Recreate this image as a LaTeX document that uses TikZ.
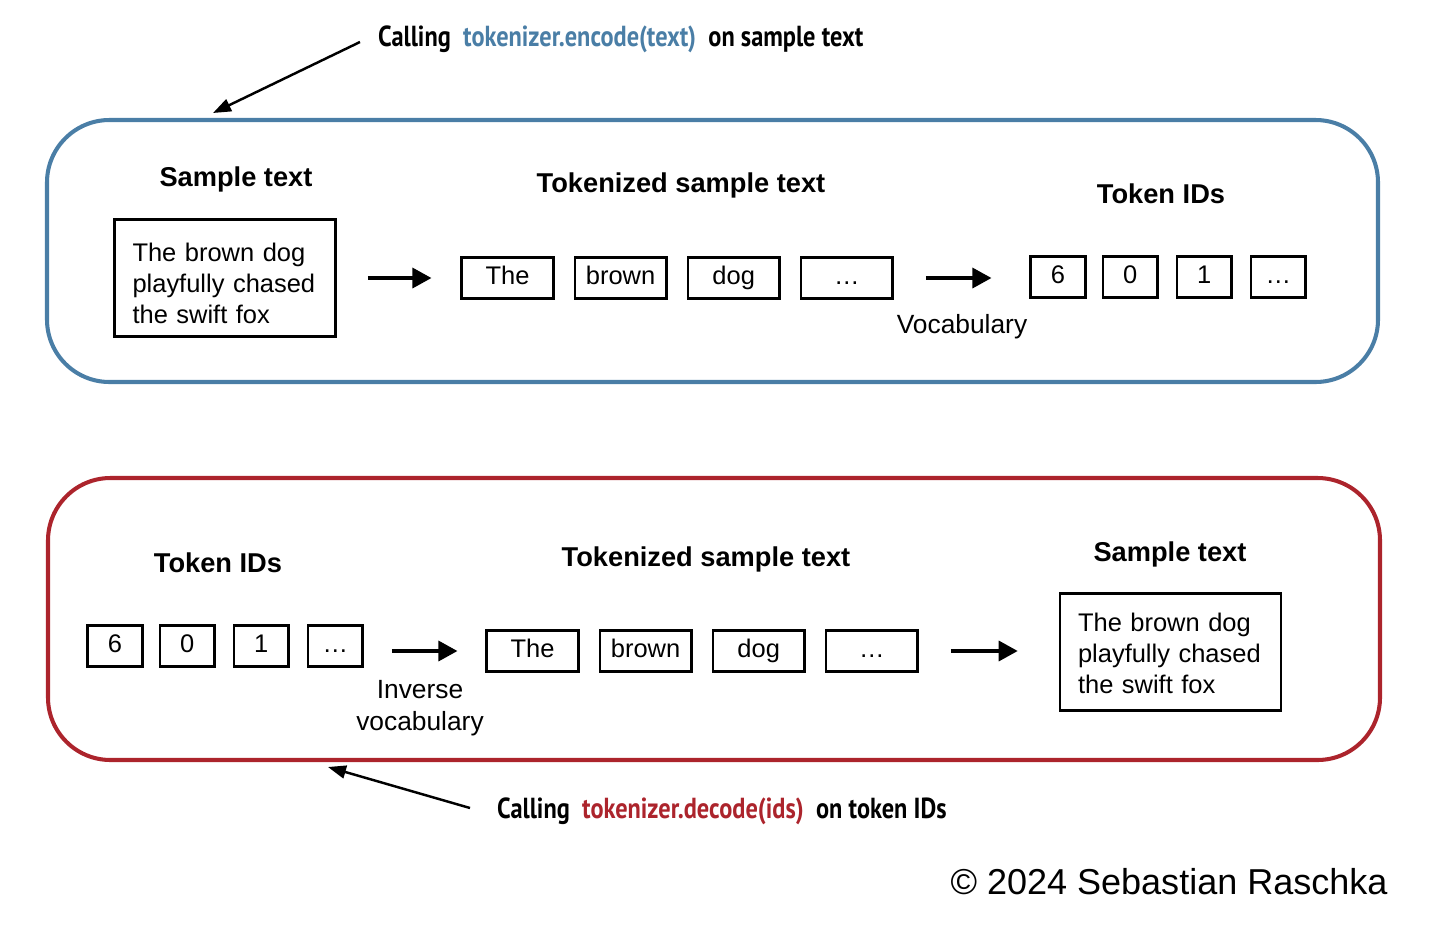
\documentclass[tikz,border=0pt]{standalone}
\usepackage{fontspec}
\setmainfont{Liberation Sans}
\newfontfamily\capfont[FakeStretch=0.84]{PT Sans}
\usepackage{xcolor}
\usetikzlibrary{positioning, arrows.meta}

\definecolor{encblue}{RGB}{74,126,166}
\definecolor{decred}{RGB}{172,36,44}

\tikzset{
  panel/.style={rounded corners=1.25cm, line width=2.3pt},
  tok/.style={draw, line width=1.5pt, minimum width=1.83cm, minimum height=0.82cm,
    inner sep=0pt, text height=0.98em, text depth=0.2em, font=\fontsize{14.5}{17}\selectfont},
  tid/.style={tok, minimum width=1.09cm},
  txtbox/.style={draw, line width=1.5pt, inner xsep=0.36cm, inner ysep=0pt,
    text width=3.7cm, minimum height=2.33cm, align=left, font=\fontsize{14.5}{17.6}\selectfont},
  head/.style={font=\fontsize{15.5}{18}\selectfont\bfseries},
  lbl/.style={font=\fontsize{15}{18.5}\selectfont, align=center},
  callcap/.style={font=\fontsize{16.5}{19}\selectfont\capfont\bfseries},
  flow/.style={-{Triangle[length=0.38cm,width=0.4cm]}, line width=1.9pt},
  pointer/.style={-{Triangle[length=0.36cm,width=0.26cm]}, line width=1.4pt}
}

\begin{document}
\begin{tikzpicture}[x=0.02cm, y=-0.02cm]
  \useasboundingbox (0,0) rectangle (1454,940);

  % Panels
  \draw[panel, encblue] (47,120) rectangle (1378,382);
  \draw[panel, decred] (48,478) rectangle (1380,760);

  % Encode
  \node[callcap, anchor=west] (enccap) at (372,39)
    {Calling\ \ \textcolor{encblue}{tokenizer.encode(text)}\ \ on sample text};
  \coordinate (enctip) at (213,113);
  \draw[pointer] (enccap.west) ++(-12,3) -- (enctip);

  \node[head] (encsamplehead) at (236,179) {Sample text};
  \node[txtbox] (encsample) at (225,278) {\rule{0pt}{16.5pt}The brown dog\\playfully chased\\the swift fox};

  \node[head] (enctokhead) at (681,185) {Tokenized sample text};
  \node[tok] (encThe) at (507.5,278) {The};
  \node[tok, right=0.38cm of encThe] (encbrown) {brown};
  \node[tok, right=0.38cm of encbrown] (encdog) {dog};
  \node[tok, right=0.38cm of encdog] (encdots) {\dots};

  \node[head] (encidhead) at (1161,194) {Token IDs};
  \node[tid] (encsix) at (1058,277) {6};
  \node[tid, right=0.3cm of encsix] (enczero) {0};
  \node[tid, right=0.34cm of enczero] (encone) {1};
  \node[tid, right=0.34cm of encone] (encmore) {\dots};

  \draw[flow, shorten <=0.62cm, shorten >=0.58cm] (encsample.east |- encThe) -- (encThe.west);
  \draw[flow, shorten <=0.64cm, shorten >=0.76cm] (encdots.east) -- (encsix.west |- encdots);
  \node[lbl] (vocab) at (962,327) {Vocabulary};

  % Decode
  \node[head] (decidhead) at (218,563) {Token IDs};
  \node[tid] (decsix) at (115,646) {6};
  \node[tid, right=0.3cm of decsix] (deczero) {0};
  \node[tid, right=0.34cm of deczero] (decone) {1};
  \node[tid, right=0.34cm of decone] (decmore) {\dots};

  \node[head] (dectokhead) at (706,559) {Tokenized sample text};
  \node[tok] (decThe) at (532.5,651) {The};
  \node[tok, right=0.38cm of decThe] (decbrown) {brown};
  \node[tok, right=0.38cm of decbrown] (decdog) {dog};
  \node[tok, right=0.38cm of decdog] (decdots) {\dots};

  \node[head] (decsamplehead) at (1170,554) {Sample text};
  \node[txtbox] (decsample) at (1170.5,652) {\rule{0pt}{12pt}The brown dog\\playfully chased\\the swift fox};

  \draw[flow, shorten <=0.56cm, shorten >=0.56cm] (decmore.east |- decThe) -- (decThe.west);
  \draw[flow, shorten <=0.64cm, shorten >=0.82cm] (decdots.east) -- (decsample.west |- decdots);
  \node[lbl] (invvocab) at (420,708) {Inverse\\vocabulary};

  \node[callcap, anchor=west] (deccap) at (491,811)
    {Calling\ \ \textcolor{decred}{tokenizer.decode(ids)}\ \ on token IDs};
  \coordinate (dectip) at (328,767);
  \draw[pointer] (deccap.west) ++(-21,-3) -- (dectip);

  % Copyright
  \node[font=\fontsize{20.5}{24}\selectfont] (copyright) at (1169,882) {\textcopyright\ 2024 Sebastian Raschka};
\end{tikzpicture}
\end{document}
